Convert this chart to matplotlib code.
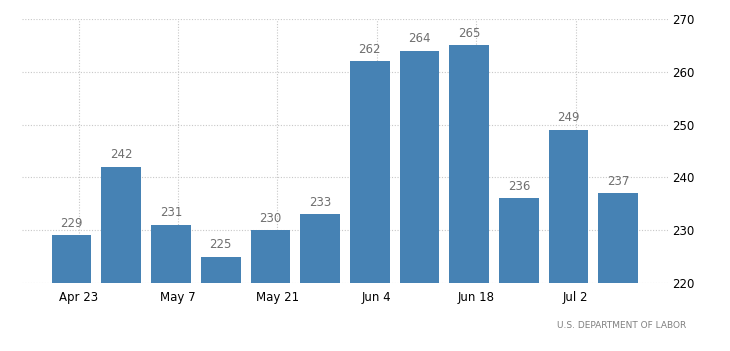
import matplotlib
matplotlib.use("Agg")
from matplotlib import pyplot as plt

# weekly initial jobless claims (thousands)
values = [229, 242, 231, 225, 230, 233, 262, 264, 265, 236, 249, 237]
tick_labels = ["Apr 23", "May 7", "May 21", "Jun 4", "Jun 18", "Jul 2"]
y_ticks = [220, 230, 240, 250, 260, 270]

x = range(len(values))
fig = plt.figure(figsize=(7.3, 3.51), dpi=100)
ax = fig.add_axes([0.030, 0.194, 0.885, 0.752])

ax.bar(x, [v - 220 for v in values], bottom=220, width=0.8, color="#4682b4", zorder=2)
for xi, v in zip(x, values):
    ax.annotate(str(v), (xi, v), xytext=(0, 4), textcoords="offset points",
                ha="center", va="bottom", fontsize=8.5, color="#6f6f6f")

ax.set_xlim(-1, 12)
ax.set_ylim(220, 270)
ax.set_xticks([i + 0.14 for i in range(0, len(values), 2)])
ax.set_xticklabels(tick_labels)
ax.set_yticks(y_ticks)
ax.yaxis.tick_right()
ax.tick_params(length=0, labelsize=8.5, colors="black")
ax.tick_params(axis="y", pad=3)
ax.tick_params(axis="x", pad=6)
ax.grid(True, color="#c8c8c8", linestyle=(0, (1, 1.5)), linewidth=0.8)
ax.set_axisbelow(True)
for s in ax.spines.values():
    s.set_visible(False)

fig.text(0.94, 0.072, "U.S. DEPARTMENT OF LABOR", ha="right", va="center",
         fontsize=6.5, color="#808080")

fig.savefig("out.png", dpi=100)
